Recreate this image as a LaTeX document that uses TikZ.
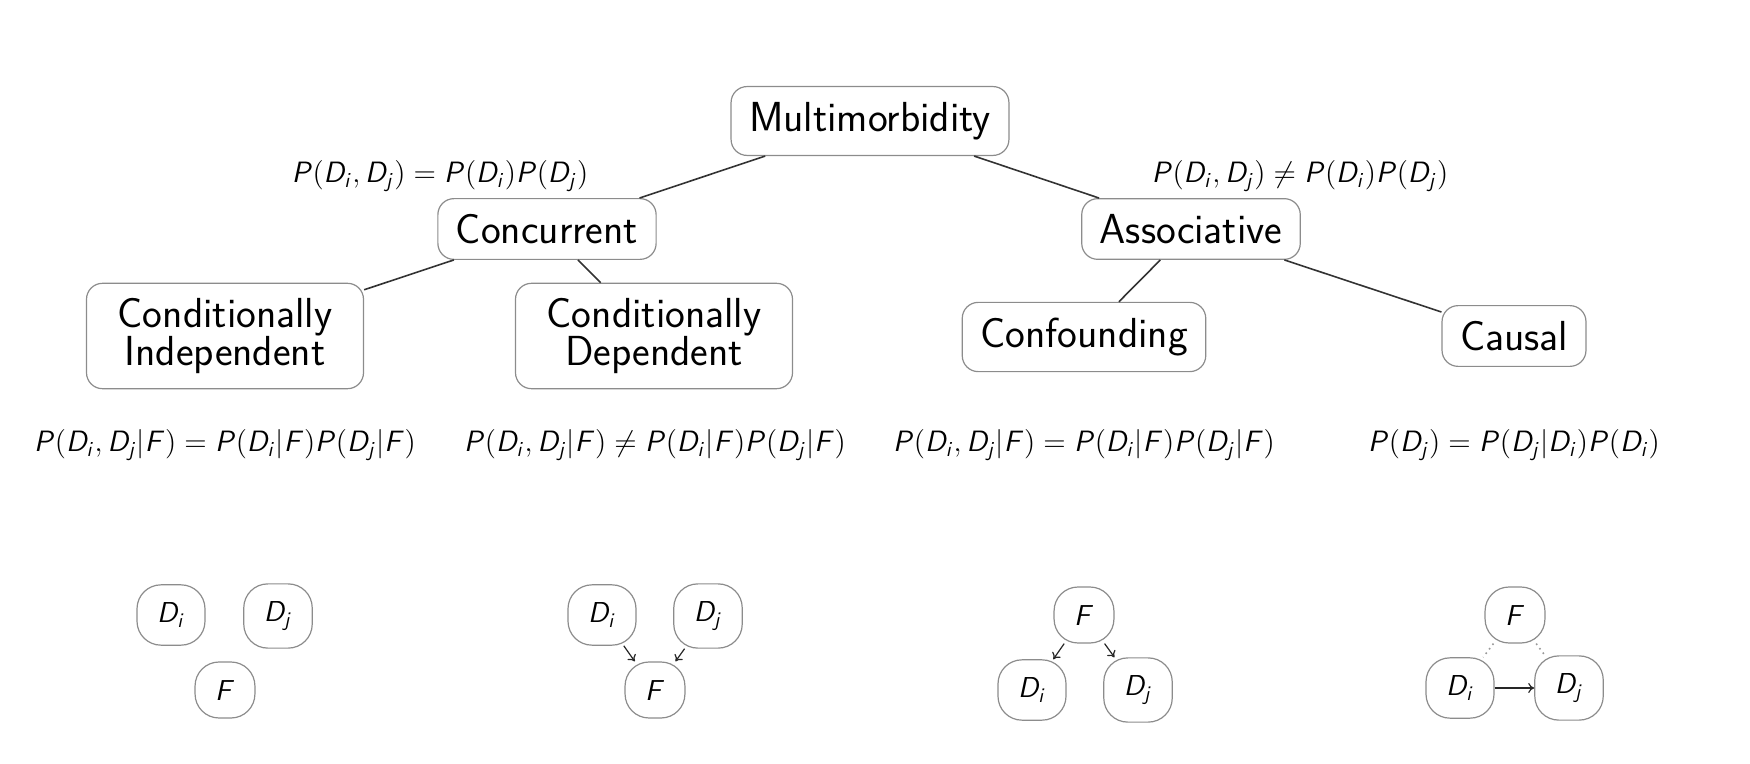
\RequirePackage{fix-cm}
\documentclass[tikz,border=0pt]{standalone}
\usetikzlibrary{arrows.meta}
\DeclareMathAlphabet{\mathsfsl}{OT1}{cmss}{m}{sl}
\newcommand{\sv}[1]{\mathsfsl{#1}}
\newcommand{\vP}{\sv{P}}
\newcommand{\vDi}{\sv{D}_{\sv{i}}}
\newcommand{\vDj}{\sv{D}_{\sv{j}}}
\newcommand{\vF}{\sv{F}}
\tikzset{
  treebox/.style={draw=black!45, line width=0.6pt, rounded corners=8pt, inner xsep=9pt, inner ysep=7.8pt,
    font=\sffamily\fontsize{21}{19}\selectfont, align=center},
  twoline/.style={treebox, minimum width=138.5pt, inner ysep=7.5pt},
  eqlabel/.style={inner sep=0pt, font=\fontsize{14.7}{17}\selectfont},
  dagnode/.style={draw=black!45, line width=0.6pt, rounded corners=12pt, inner xsep=10pt, inner ysep=9pt,
    font=\fontsize{14.4}{17}\selectfont},
  treeedge/.style={draw=black!80, line width=0.8pt},
  dagarrow/.style={draw=black!85, line width=0.6pt, -{To[length=3pt,width=5pt]}},
  dagdot/.style={draw=black!40, line width=0.8pt, dotted}
}
\begin{document}
\begin{tikzpicture}[x=0.5pt, y=-0.5pt]
\useasboundingbox (0,0) rectangle (1750,764);
% tree nodes
\node[treebox] (multi) at (870,121) {Multimorbidity};
\node[treebox] (conc) at (547,229) {Concurrent};
\node[treebox] (assoc) at (1191,229) {Associative};
\node[twoline] (ci) at (225,336) {Conditionally\\Independent};
\node[twoline] (cd) at (654,336) {Conditionally\\Dependent};
\node[treebox] (conf) at (1084,337) {Confounding};
\node[treebox] (causal) at (1514,336) {Causal};
% tree edges
\draw[treeedge] (multi) -- (conc);
\draw[treeedge] (multi) -- (assoc);
\draw[treeedge] (conc) -- (ci);
\draw[treeedge] (conc) -- (cd);
\draw[treeedge] (assoc) -- (conf);
\draw[treeedge] (assoc) -- (causal);
% equations
\node[eqlabel] (eq1) at (440,176) {$\vP(\vDi, \vDj) = \vP(\vDi)\vP(\vDj)$};
\node[eqlabel] (eq2) at (1300,176) {$\vP(\vDi, \vDj) \neq \vP(\vDi)\vP(\vDj)$};
\node[eqlabel] (eq3) at (225,445) {$\vP(\vDi, \vDj|\vF) = \vP(\vDi|\vF)\vP(\vDj|\vF)$};
\node[eqlabel] (eq4) at (655,445) {$\vP(\vDi, \vDj|\vF) \neq \vP(\vDi|\vF)\vP(\vDj|\vF)$};
\node[eqlabel] (eq5) at (1084,445) {$\vP(\vDi, \vDj|\vF) = \vP(\vDi|\vF)\vP(\vDj|\vF)$};
\node[eqlabel] (eq6) at (1514,445) {$\vP(\vDj) = \vP(\vDj|\vDi)\vP(\vDi)$};
% DAG 1
\node[dagnode] (a1) at (171,615) {$\vDi$};
\node[dagnode] (b1) at (278,616) {$\vDj$};
\node[dagnode] (f1) at (225,690) {$\vF$};
% DAG 2
\node[dagnode] (a2) at (602,615) {$\vDi$};
\node[dagnode] (b2) at (708,616) {$\vDj$};
\node[dagnode] (f2) at (655,690) {$\vF$};
\draw[dagarrow] (a2) -- (f2);
\draw[dagarrow] (b2) -- (f2);
% DAG 3
\node[dagnode] (f3) at (1084,615) {$\vF$};
\node[dagnode] (a3) at (1032,690) {$\vDi$};
\node[dagnode] (b3) at (1138,690) {$\vDj$};
\draw[dagarrow] (f3) -- (a3);
\draw[dagarrow] (f3) -- (b3);
% DAG 4
\node[dagnode] (f4) at (1515,615) {$\vF$};
\node[dagnode] (a4) at (1460,688) {$\vDi$};
\node[dagnode] (b4) at (1569,688) {$\vDj$};
\draw[dagarrow] (a4) -- (b4);
\draw[dagdot] (f4) -- (a4);
\draw[dagdot] (f4) -- (b4);
\end{tikzpicture}
\end{document}
